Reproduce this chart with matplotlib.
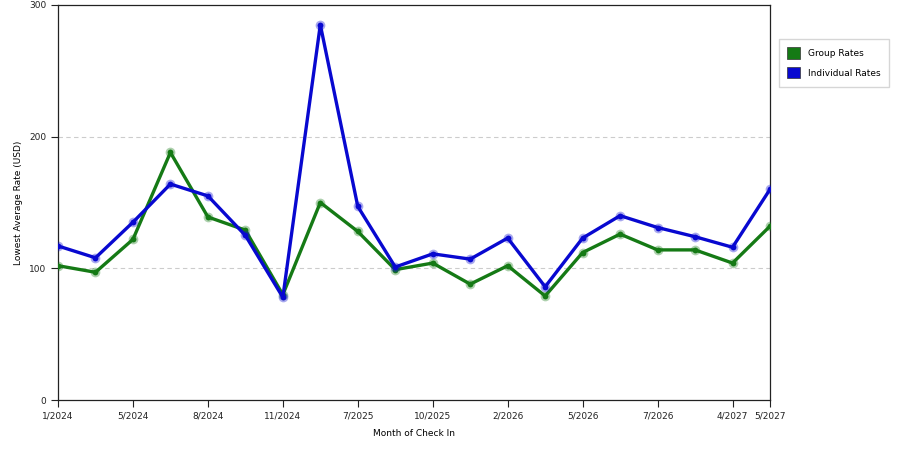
import numpy as np
import matplotlib
matplotlib.use("Agg")
import matplotlib.pyplot as plt
from matplotlib.patches import Patch

# values (one point per month of check in)
group_rates = [102, 97, 122, 188, 139, 129, 80, 150, 128, 99,
               104, 88, 102, 79, 112, 126, 114, 114, 104, 132]
individual_rates = [117, 108, 135, 164, 155, 125, 78, 285, 147, 101,
                    111, 107, 123, 86, 123, 140, 131, 124, 116, 160]
tick_idx = [0, 2, 4, 6, 8, 10, 12, 14, 16, 18, 19]
tick_labels = ["1/2024", "5/2024", "8/2024", "11/2024", "7/2025", "10/2025",
               "2/2026", "5/2026", "7/2026", "4/2027", "5/2027"]

green = "#157a15"
blue = "#0808d0"

plt.rcParams['font.family'] = ['DejaVu Sans']
fig = plt.figure(figsize=(9, 4.5), dpi=100)
ax = fig.add_axes([58 / 900, 50 / 450, 712 / 900, 395 / 450])

x = np.arange(len(group_rates))
for vals, col, z in [(group_rates, green, 3), (individual_rates, blue, 4)]:
    ax.plot(x, vals, color=col, lw=2.4, zorder=z, solid_joinstyle='round')
    ax.plot(x, vals, 'o', ms=7, mfc=col, mec='none', alpha=0.35, zorder=z)
    ax.plot(x, vals, 'o', ms=4.2, mfc=col, mec='none', zorder=z + 0.1)

ax.set_xlim(0, len(group_rates) - 1)
ax.set_ylim(0, 300)
ax.set_yticks([0, 100, 200, 300])
ax.set_xticks(tick_idx)
ax.set_xticklabels(tick_labels)
ax.tick_params(labelsize=6.5, length=5, width=0.8, colors="#222222")
for y in [100, 200]:
    ax.axhline(y, color="#cccccc", lw=0.8, ls=(0, (4, 3)), zorder=1)
for s in ax.spines.values():
    s.set_color("#222222")
    s.set_linewidth(0.9)

ax.set_xlabel("Month of Check In", fontsize=6.5, labelpad=6)
ax.set_ylabel("Lowest Average Rate (USD)", fontsize=6.5, labelpad=4)

handles = [Patch(facecolor=green, edgecolor="#333333", lw=0.5, label="Group Rates"),
           Patch(facecolor=blue, edgecolor="#333333", lw=0.5, label="Individual Rates")]
fig.legend(handles=handles, loc="upper left", bbox_to_anchor=(779 / 900, 1 - 39 / 450),
           fontsize=6.5, frameon=True, fancybox=False, edgecolor="#cccccc",
           handlelength=1.4, handleheight=1.6, borderpad=0.9, labelspacing=0.9,
           handletextpad=0.9, borderaxespad=0)

fig.savefig("out.png", dpi=100)
